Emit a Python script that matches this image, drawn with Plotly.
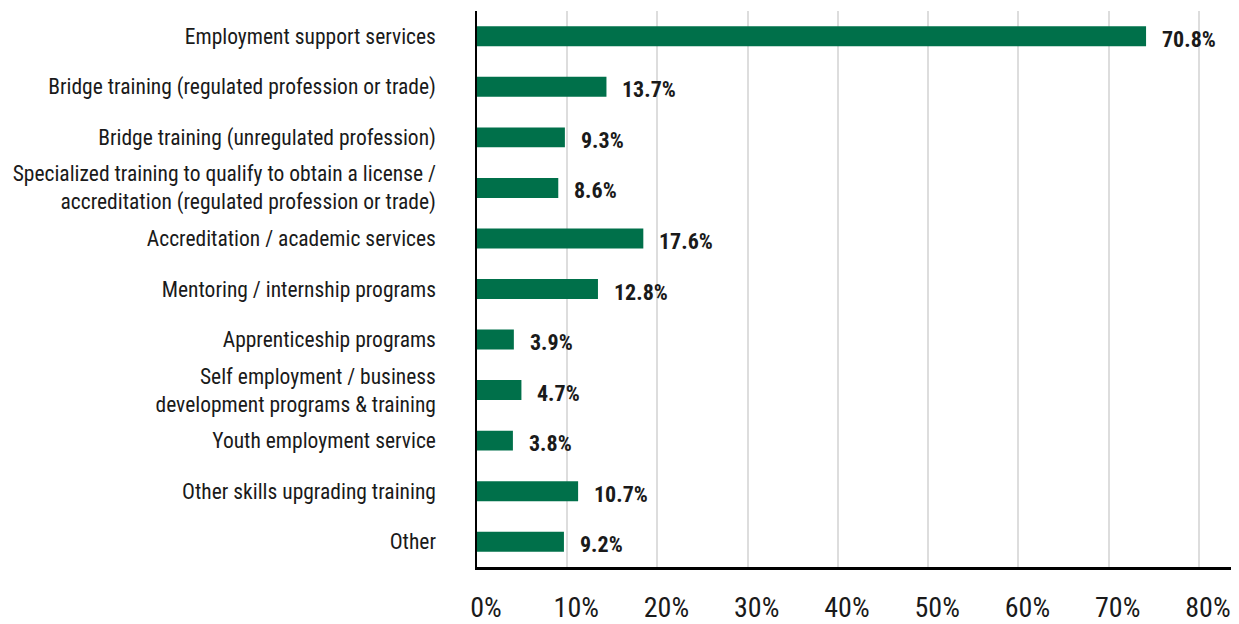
import plotly.graph_objects as go

categories = [
    "Employment support services",
    "Bridge training (regulated profession or trade)",
    "Bridge training (unregulated profession)",
    "Specialized training to qualify to obtain a license /<br>accreditation (regulated profession or trade)",
    "Accreditation / academic services",
    "Mentoring / internship programs",
    "Apprenticeship programs",
    "Self employment / business<br>development programs & training",
    "Youth employment service",
    "Other skills upgrading training",
    "Other",
]
values = [70.8, 13.7, 9.3, 8.6, 17.6, 12.8, 3.9, 4.7, 3.8, 10.7, 9.2]
value_labels = ["70.8%", "13.7%", "9.3%", "8.6%", "17.6%", "12.8%", "3.9%", "4.7%", "3.8%", "10.7%", "9.2%"]
tick_values = [0, 10, 20, 30, 40, 50, 60, 70, 80]
tick_labels = ["0%", "10%", "20%", "30%", "40%", "50%", "60%", "70%", "80%"]

# the reference's tick labels are spaced slightly tighter than the bar scale
TICK_SCALE = 0.955

FONT = "Liberation Sans Narrow, Roboto Condensed, DejaVu Sans Condensed, Arial Narrow, sans-serif"
GREEN = "#00704A"

fig = go.Figure()
fig.add_trace(go.Bar(
    x=values, y=categories, orientation="h",
    marker=dict(color=GREEN, line=dict(width=0)),
    width=0.395, hoverinfo="x+y",
))

for v, c, t in zip(values, categories, value_labels):
    fig.add_annotation(x=v, y=c, text="<b>" + t + "</b>", showarrow=False,
                       xanchor="left", yanchor="middle", xshift=14, yshift=-3,
                       font=dict(family=FONT, size=22, color="#1a1a1a"))

fig.update_layout(
    width=1239, height=624,
    margin=dict(l=469, r=14, t=3, b=65),
    plot_bgcolor="white", paper_bgcolor="white",
    showlegend=False,
    font=dict(family=FONT, color="#1a1a1a"),
    xaxis=dict(
        range=[0, 80],
        tickvals=[t * TICK_SCALE for t in tick_values],
        ticktext=tick_labels,
        showgrid=True, gridcolor="#dddddd", gridwidth=1.5,
        zeroline=False,
        showline=True, linecolor="black", linewidth=3,
        ticks="", tickfont=dict(family=FONT, size=28, color="#1a1a1a"),
        ticklabelstandoff=13, ticklabelshift=9,
        automargin=False, fixedrange=True,
    ),
    yaxis=dict(
        autorange="reversed",
        showgrid=False, zeroline=False,
        showline=True, linecolor="black", linewidth=1.5,
        ticks="", tickfont=dict(family=FONT, size=21.5, color="#1a1a1a"),
        ticklabelstandoff=35,
        automargin=False, fixedrange=True,
    ),
)

fig.write_html("out.html")
